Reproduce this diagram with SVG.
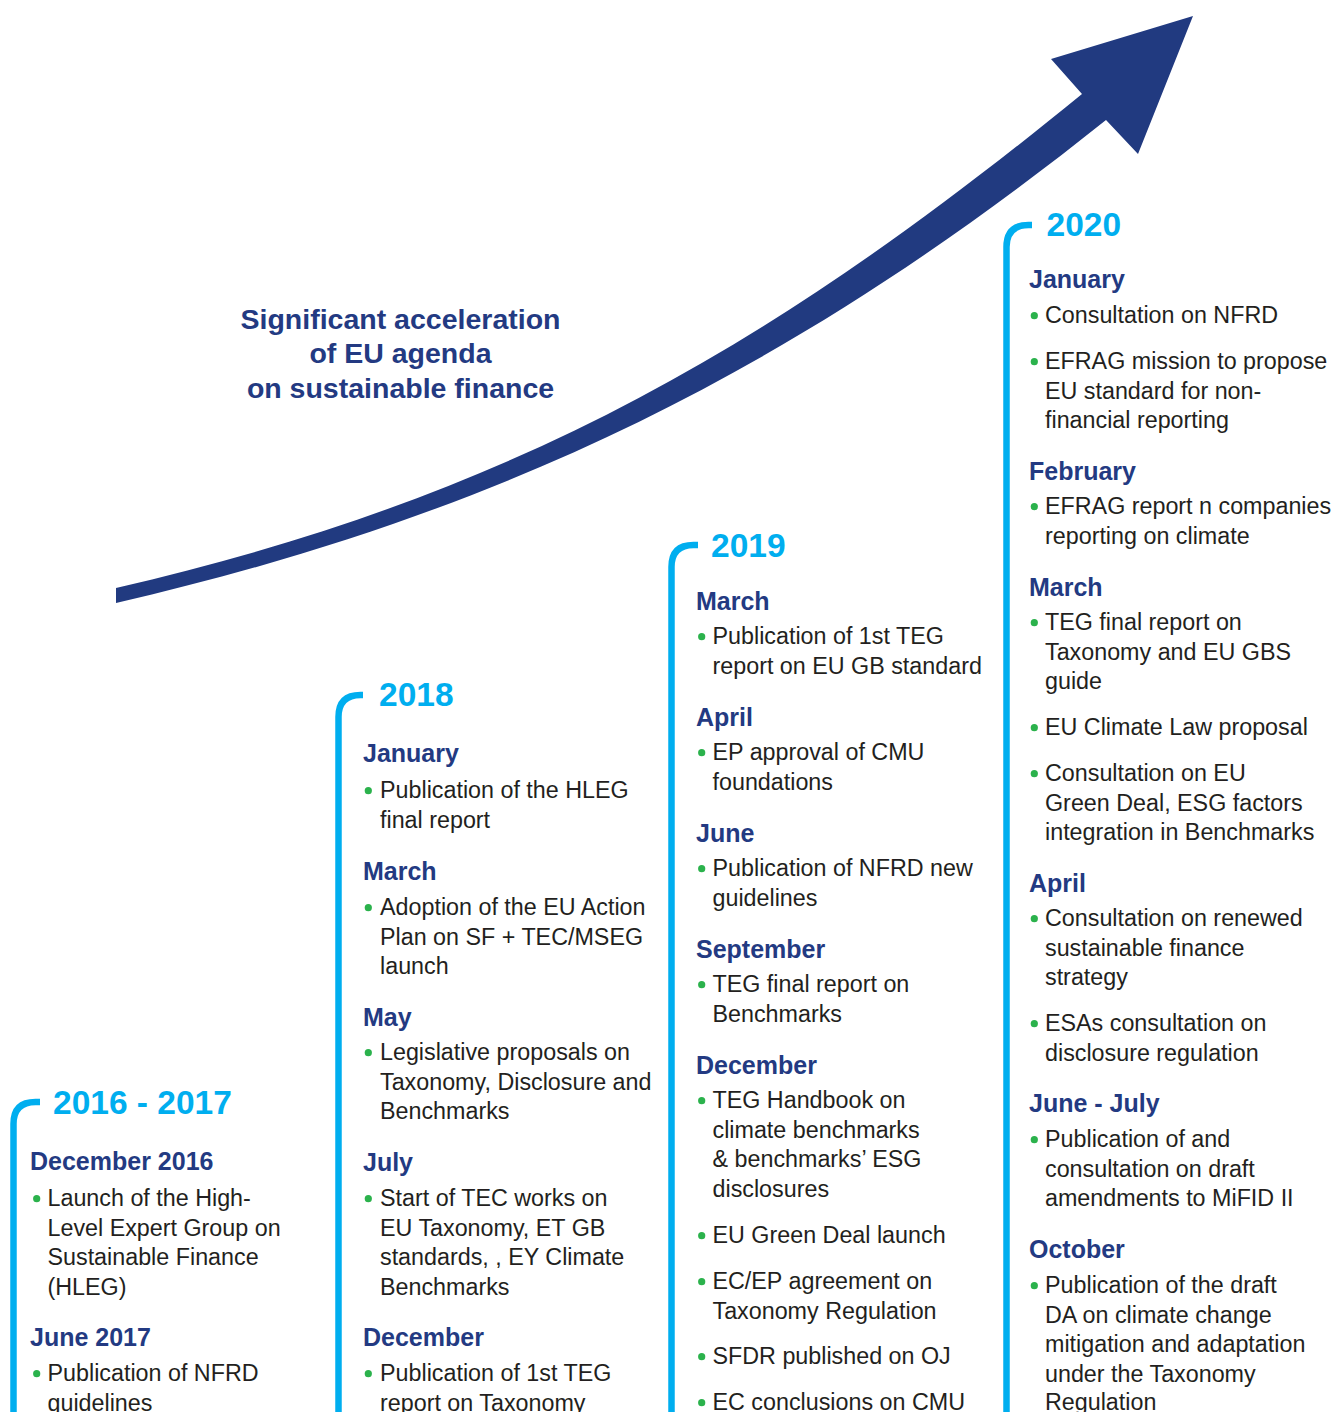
<svg xmlns="http://www.w3.org/2000/svg" width="1333" height="1412" viewBox="0 0 1333 1412">
<style>
.yr{font-family:"Liberation Sans",Arial,sans-serif;font-weight:bold;font-size:33.5px;fill:#00AEEF}
.mo{font-family:"Liberation Sans",Arial,sans-serif;font-weight:bold;font-size:25px;fill:#233A82}
.tx{font-family:"Liberation Sans",Arial,sans-serif;font-size:23.3px;fill:#231F20}
.tt{font-family:"Liberation Sans",Arial,sans-serif;font-weight:bold;font-size:28.5px;fill:#233A82}
.dot{fill:#2BB24C}
.brk{fill:none;stroke:#00AEEF;stroke-width:6.5}
</style>
<rect width="1333" height="1412" fill="#ffffff"/>
<g id="connectors">
<path id="growth-arrow" fill="#213A80" d="M116 588 C516 496 776 344 1082 94 L1051 59 L1193 16 L1138 154 L1106 120 C806 360 516 511 116 603 Z"/>
</g>
<g id="title">
<text class="tt" x="400.5" y="329" text-anchor="middle">Significant acceleration</text>
<text class="tt" x="400.5" y="363" text-anchor="middle">of EU agenda</text>
<text class="tt" x="400.5" y="397.5" text-anchor="middle">on sustainable finance</text>
</g>
<g id="col-2016-2017">
<path class="brk" d="M13.5 1412 V1124 Q13.5 1102 35.5 1102 H40"/>
<text class="yr" x="53" y="1114">2016 - 2017</text>
<text class="mo" x="30" y="1170">December 2016</text>
<circle class="dot" cx="36.7" cy="1198.7" r="3.6"/>
<text class="tx" x="47.5" y="1206">Launch of the High-</text>
<text class="tx" x="47.5" y="1235.5">Level Expert Group on</text>
<text class="tx" x="47.5" y="1265">Sustainable Finance</text>
<text class="tx" x="47.5" y="1294.5">(HLEG)</text>
<text class="mo" x="30" y="1346">June 2017</text>
<circle class="dot" cx="36.7" cy="1373.7" r="3.6"/>
<text class="tx" x="47.5" y="1381">Publication of NFRD</text>
<text class="tx" x="47.5" y="1410.5">guidelines</text>
</g>
<g id="col-2018">
<path class="brk" d="M338.5 1412 V717 Q338.5 695 360.5 695 H363"/>
<text class="yr" x="379" y="706">2018</text>
<text class="mo" x="363" y="762">January</text>
<circle class="dot" cx="368.3" cy="790.7" r="3.6"/>
<text class="tx" x="380" y="798">Publication of the HLEG</text>
<text class="tx" x="380" y="827.5">final report</text>
<text class="mo" x="363" y="879.5">March</text>
<circle class="dot" cx="368.3" cy="907.7" r="3.6"/>
<text class="tx" x="380" y="915">Adoption of the EU Action</text>
<text class="tx" x="380" y="944.5">Plan on SF + TEC/MSEG</text>
<text class="tx" x="380" y="974">launch</text>
<text class="mo" x="363" y="1026">May</text>
<circle class="dot" cx="368.3" cy="1052.7" r="3.6"/>
<text class="tx" x="380" y="1060">Legislative proposals on</text>
<text class="tx" x="380" y="1089.5">Taxonomy, Disclosure and</text>
<text class="tx" x="380" y="1119">Benchmarks</text>
<text class="mo" x="363" y="1171">July</text>
<circle class="dot" cx="368.3" cy="1198.7" r="3.6"/>
<text class="tx" x="380" y="1206">Start of TEC works on</text>
<text class="tx" x="380" y="1235.5">EU Taxonomy, ET GB</text>
<text class="tx" x="380" y="1265">standards, , EY Climate</text>
<text class="tx" x="380" y="1294.5">Benchmarks</text>
<text class="mo" x="363" y="1346">December</text>
<circle class="dot" cx="368.3" cy="1373.7" r="3.6"/>
<text class="tx" x="380" y="1381">Publication of 1st TEG</text>
<text class="tx" x="380" y="1410.5">report on Taxonomy</text>
</g>
<g id="col-2019">
<path class="brk" d="M671.5 1412 V567 Q671.5 545 693.5 545 H698"/>
<text class="yr" x="711" y="556.5">2019</text>
<text class="mo" x="696" y="610">March</text>
<circle class="dot" cx="701.7" cy="636.7" r="3.6"/>
<text class="tx" x="712.5" y="644">Publication of 1st TEG</text>
<text class="tx" x="712.5" y="673.5">report on EU GB standard</text>
<text class="mo" x="696" y="726">April</text>
<circle class="dot" cx="701.7" cy="752.7" r="3.6"/>
<text class="tx" x="712.5" y="760">EP approval of CMU</text>
<text class="tx" x="712.5" y="789.5">foundations</text>
<text class="mo" x="696" y="842">June</text>
<circle class="dot" cx="701.7" cy="868.7" r="3.6"/>
<text class="tx" x="712.5" y="876">Publication of NFRD new</text>
<text class="tx" x="712.5" y="905.5">guidelines</text>
<text class="mo" x="696" y="958">September</text>
<circle class="dot" cx="701.7" cy="984.7" r="3.6"/>
<text class="tx" x="712.5" y="992">TEG final report on</text>
<text class="tx" x="712.5" y="1021.5">Benchmarks</text>
<text class="mo" x="696" y="1074">December</text>
<circle class="dot" cx="701.7" cy="1100.7" r="3.6"/>
<text class="tx" x="712.5" y="1108">TEG Handbook on</text>
<text class="tx" x="712.5" y="1137.5">climate benchmarks</text>
<text class="tx" x="712.5" y="1167">&amp; benchmarks’ ESG</text>
<text class="tx" x="712.5" y="1196.5">disclosures</text>
<circle class="dot" cx="701.7" cy="1235.7" r="3.6"/>
<text class="tx" x="712.5" y="1243">EU Green Deal launch</text>
<circle class="dot" cx="701.7" cy="1281.7" r="3.6"/>
<text class="tx" x="712.5" y="1289">EC/EP agreement on</text>
<text class="tx" x="712.5" y="1318.5">Taxonomy Regulation</text>
<circle class="dot" cx="701.7" cy="1356.7" r="3.6"/>
<text class="tx" x="712.5" y="1364">SFDR published on OJ</text>
<circle class="dot" cx="701.7" cy="1402.7" r="3.6"/>
<text class="tx" x="712.5" y="1410">EC conclusions on CMU</text>
</g>
<g id="col-2020">
<path class="brk" d="M1006.5 1412 V247 Q1006.5 225 1028.5 225 H1032"/>
<text class="yr" x="1046.5" y="235.5">2020</text>
<text class="mo" x="1029" y="288">January</text>
<circle class="dot" cx="1034.3" cy="315.7" r="3.6"/>
<text class="tx" x="1045" y="323">Consultation on NFRD</text>
<circle class="dot" cx="1034.3" cy="361.7" r="3.6"/>
<text class="tx" x="1045" y="369">EFRAG mission to propose</text>
<text class="tx" x="1045" y="398.5">EU standard for non-</text>
<text class="tx" x="1045" y="428">financial reporting</text>
<text class="mo" x="1029" y="479.5">February</text>
<circle class="dot" cx="1034.3" cy="506.7" r="3.6"/>
<text class="tx" x="1045" y="514">EFRAG report n companies</text>
<text class="tx" x="1045" y="543.5">reporting on climate</text>
<text class="mo" x="1029" y="596">March</text>
<circle class="dot" cx="1034.3" cy="622.7" r="3.6"/>
<text class="tx" x="1045" y="630">TEG final report on</text>
<text class="tx" x="1045" y="659.5">Taxonomy and EU GBS</text>
<text class="tx" x="1045" y="689">guide</text>
<circle class="dot" cx="1034.3" cy="727.7" r="3.6"/>
<text class="tx" x="1045" y="735">EU Climate Law proposal</text>
<circle class="dot" cx="1034.3" cy="773.7" r="3.6"/>
<text class="tx" x="1045" y="781">Consultation on EU</text>
<text class="tx" x="1045" y="810.5">Green Deal, ESG factors</text>
<text class="tx" x="1045" y="840">integration in Benchmarks</text>
<text class="mo" x="1029" y="892">April</text>
<circle class="dot" cx="1034.3" cy="918.7" r="3.6"/>
<text class="tx" x="1045" y="926">Consultation on renewed</text>
<text class="tx" x="1045" y="955.5">sustainable finance</text>
<text class="tx" x="1045" y="985">strategy</text>
<circle class="dot" cx="1034.3" cy="1023.7" r="3.6"/>
<text class="tx" x="1045" y="1031">ESAs consultation on</text>
<text class="tx" x="1045" y="1060.5">disclosure regulation</text>
<text class="mo" x="1029" y="1112">June - July</text>
<circle class="dot" cx="1034.3" cy="1139.7" r="3.6"/>
<text class="tx" x="1045" y="1147">Publication of and</text>
<text class="tx" x="1045" y="1176.5">consultation on draft</text>
<text class="tx" x="1045" y="1206">amendments to MiFID II</text>
<text class="mo" x="1029" y="1258">October</text>
<circle class="dot" cx="1034.3" cy="1285.7" r="3.6"/>
<text class="tx" x="1045" y="1293">Publication of the draft</text>
<text class="tx" x="1045" y="1322.5">DA on climate change</text>
<text class="tx" x="1045" y="1352">mitigation and adaptation</text>
<text class="tx" x="1045" y="1381.5">under the Taxonomy</text>
<text class="tx" x="1045" y="1410">Regulation</text>
</g>
</svg>
